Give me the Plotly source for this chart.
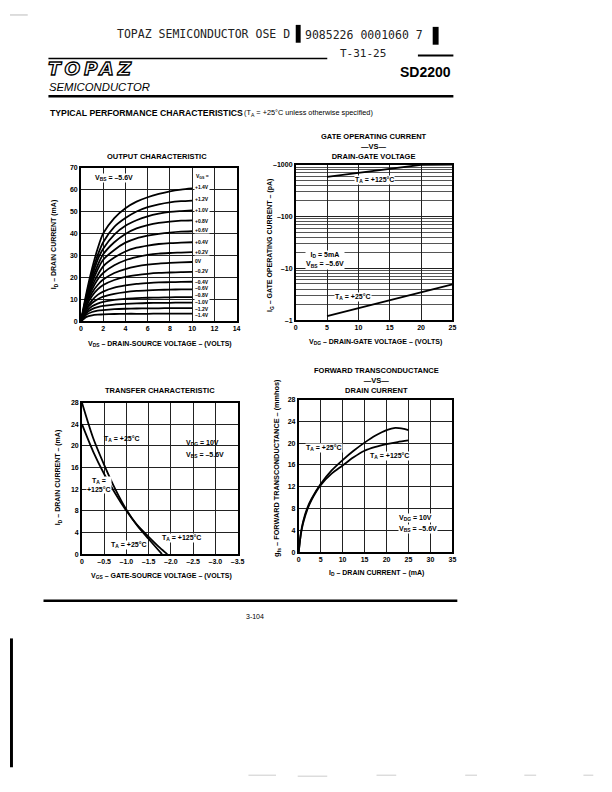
import plotly.graph_objects as go

W, H = 612, 792
OFF = 8  # page body margin, positions below are page pixels

# ---- output characteristic: I_D (mA) vs V_DS (V), one curve per V_GS
vds = [0, 0.5, 1, 1.5, 2, 3, 4, 5, 6, 7, 8, 9, 10]
vgs_names = ["+1.4V", "+1.2V", "+1.0V", "+0.8V", "+0.6V", "+0.4V", "+0.2V", "0V",
             "\u20130.2V", "\u20130.4V", "\u20130.6V", "\u20130.8V", "\u20131.0V",
             "\u20131.2V", "\u20131.4V"]
id_curves = [
    [0, 13, 24, 33, 40, 47, 51.5, 54.5, 56.5, 58, 59.2, 60, 60.5],
    [0, 12, 22, 30, 36, 43, 47, 50, 52, 53.3, 54.2, 54.7, 55],
    [0, 11, 20.5, 28, 33, 39.5, 43.5, 46, 47.8, 49, 49.8, 50.2, 50.5],
    [0, 10.5, 19, 25.5, 30.5, 36, 39.8, 42.3, 43.8, 44.8, 45.4, 45.8, 46],
    [0, 10, 17.5, 23.5, 28, 32.5, 35.8, 37.8, 39, 39.8, 40.4, 40.8, 41],
    [0, 9.5, 16, 21, 25, 29, 31.8, 33.5, 34.5, 35.2, 35.6, 35.8, 36],
    [0, 9, 14.5, 19, 22, 25.5, 27.8, 29.2, 30.2, 30.8, 31.1, 31.3, 31.5],
    [0, 8, 13, 16.5, 19, 22, 23.8, 25, 25.8, 26.3, 26.6, 26.8, 27],
    [0, 7, 11.5, 14.5, 16.5, 18.8, 20.2, 21, 21.6, 22, 22.2, 22.4, 22.5],
    [0, 6, 9.5, 12, 13.5, 15.3, 16.3, 17, 17.4, 17.7, 17.8, 17.9, 18],
    [0, 5.5, 8.3, 10, 11.2, 12.5, 13.3, 13.8, 14.1, 14.3, 14.4, 14.5, 14.5],
    [0, 4.5, 6.8, 8, 8.8, 9.7, 10.2, 10.5, 10.7, 10.8, 10.9, 11, 11],
    [0, 3.8, 5.5, 6.4, 7, 7.6, 7.9, 8.1, 8.3, 8.4, 8.4, 8.5, 8.5],
    [0, 3, 4.2, 4.8, 5.1, 5.5, 5.7, 5.8, 5.9, 5.9, 6, 6, 6],
    [0, 2, 2.7, 3, 3.1, 3.3, 3.4, 3.4, 3.4, 3.5, 3.5, 3.5, 3.5],
]
vgs_label_y = [61, 55.6, 50.8, 45.8, 41.7, 36, 31.7, 27.4, 22.7, 18.1, 15.3, 11.8, 8.8, 5.7, 3]

# ---- gate operating current (pA, magnitude) vs V_DG
vdg = [5, 10, 15, 20, 25]
ig_125 = [580, 700, 840, 990, 1000]
ig_25 = [1.2, 1.7, 2.45, 3.45, 4.9]

# ---- transfer characteristic
vgs_25 = [0, -0.25, -0.5, -0.75, -1.0, -1.25, -1.5, -1.8]
id_25 = [28, 21.5, 16.5, 12, 8.2, 5.2, 2.8, 0]
vgs_125 = [0, -0.25, -0.5, -0.75, -1.0, -1.25, -1.5, -1.75, -1.92]
id_125 = [24, 19, 14.8, 11.2, 8.0, 5.3, 3.2, 1.2, 0]
vgs_ticks = [0, -0.5, -1.0, -1.5, -2.0, -2.5, -3.0, -3.5]
vgs_ticktext = ["0", "\u20130.5", "\u20131.0", "\u20131.5", "\u20132.0", "\u20132.5", "\u20133.0", "\u20133.5"]

# ---- forward transconductance vs drain current
idr_25 = [0, 0.5, 1, 2, 3, 5, 7.5, 10, 12.5, 15, 17.5, 20, 22, 24, 25]
gfs_25 = [0, 3.5, 5.6, 8.2, 9.9, 12.5, 15, 16.9, 18.6, 20.1, 21.4, 22.4, 22.8, 22.6, 22.4]
idr_125 = [0, 0.5, 1, 2, 3, 5, 7.5, 10, 12.5, 15, 17.5, 20, 22.5, 25]
gfs_125 = [0, 3.3, 5.3, 7.9, 9.7, 12.3, 14.4, 15.9, 17.4, 18.6, 19.3, 19.8, 20.2, 20.5]

FONT = "Liberation Sans"


def px(x):
    return (x - OFF) / W


def py(y):
    return 1 - (y - OFF) / H


def dom_x(a, b):
    return [px(a), px(b)]


def dom_y(top, bot):
    return [py(bot), py(top)]


def axis(**kw):
    d = dict(showline=True, mirror=True, linecolor="black", linewidth=1.6,
             showgrid=True, gridcolor="#222", gridwidth=0.8, zeroline=False,
             ticks="", fixedrange=True,
             tickfont=dict(family=FONT, size=7, color="black", weight="bold"))
    d.update(kw)
    return d


def note(text, x, y, size=7, bold=True, xanchor="center", yanchor="middle",
         angle=0, family=FONT, color="black", **kw):
    d = dict(text=text, xref="paper", yref="paper", x=px(x), y=py(y),
             xanchor=xanchor, yanchor=yanchor, textangle=angle, showarrow=False,
             font=dict(family=family, size=size, color=color,
                       weight="bold" if bold else "normal"))
    d.update(kw)
    return d


def dnote(text, x, y, xr, yr, size=7, xanchor="center", bg=None):
    d = dict(text=text, x=x, y=y, xref=xr, yref=yr, showarrow=False,
             xanchor=xanchor, yanchor="middle",
             font=dict(family=FONT, size=size, color="black", weight="bold"))
    if bg:
        d.update(bgcolor=bg, borderpad=0)
    return d


fig = go.Figure()
line = dict(color="black", width=1.8, shape="spline", smoothing=0.8)

for ys in id_curves:
    fig.add_trace(go.Scatter(x=vds, y=ys, mode="lines", line=line, xaxis="x", yaxis="y"))

fig.add_trace(go.Scatter(x=vdg, y=ig_125, mode="lines", line=dict(color="black", width=1.9), xaxis="x2", yaxis="y2"))
fig.add_trace(go.Scatter(x=vdg, y=ig_25, mode="lines", line=dict(color="black", width=1.9), xaxis="x2", yaxis="y2"))

fig.add_trace(go.Scatter(x=vgs_25, y=id_25, mode="lines", line=line, xaxis="x3", yaxis="y3"))
fig.add_trace(go.Scatter(x=vgs_125, y=id_125, mode="lines", line=line, xaxis="x3", yaxis="y3"))

fig.add_trace(go.Scatter(x=idr_25, y=gfs_25, mode="lines", line=line, xaxis="x4", yaxis="y4"))
fig.add_trace(go.Scatter(x=idr_125, y=gfs_125, mode="lines", line=line, xaxis="x4", yaxis="y4"))

minor_vals = [m * 10 ** e for e in range(3) for m in range(2, 10)]

fig.update_layout(
    width=W, height=H, autosize=False, showlegend=False,
    margin=dict(l=0, r=0, t=0, b=0),
    paper_bgcolor="white", plot_bgcolor="white",
    xaxis=axis(domain=dom_x(80, 238), range=[0, 14], tickvals=list(range(0, 15, 2)), anchor="y"),
    yaxis=axis(domain=dom_y(165, 320), range=[0, 70], tickvals=list(range(0, 71, 10)), anchor="x"),
    xaxis2=axis(domain=dom_x(298, 457), range=[0, 25], tickvals=[0, 5, 10, 15, 20, 25], anchor="y2"),
    yaxis2=axis(domain=dom_y(162, 319), type="log", range=[0, 3], anchor="x2",
                tickvals=[1, 10, 100, 1000],
                ticktext=["\u20131", "\u201310", "\u2013100", "\u20131000"],
                minor=dict(tickvals=minor_vals, showgrid=True, gridcolor="#555", gridwidth=0.7)),
    xaxis3=axis(domain=dom_x(81, 239), range=[0, -3.5], tickvals=vgs_ticks, ticktext=vgs_ticktext, anchor="y3"),
    yaxis3=axis(domain=dom_y(402, 555), range=[0, 28], tickvals=list(range(0, 29, 4)), anchor="x3"),
    xaxis4=axis(domain=dom_x(301, 457), range=[0, 35], tickvals=list(range(0, 36, 5)), anchor="y4"),
    yaxis4=axis(domain=dom_y(399, 553), range=[0, 28], tickvals=list(range(0, 29, 4)), anchor="x4"),
)

ann = []
# header
mono = "DejaVu Sans Mono"
ann.append(note("TOPAZ SEMICONDUCTOR OSE D", 115, 30, size=11.5, bold=False, xanchor="left", family=mono, color="#222"))
ann.append(note("9085226 0001060 7", 305, 31, size=11.5, bold=False, xanchor="left", family=mono, color="#222"))
ann.append(note("T-31-25", 341, 50, size=11, bold=False, xanchor="left", family=mono, color="#222"))
ann.append(note('<i><span style="fill:white;stroke:black;stroke-width:1.3px;letter-spacing:3.8px">TOPAZ</span></i>',
                45, 64.5, size=18.5, xanchor="left", family="DejaVu Sans"))
ann.append(note("<i>SEMICONDUCTOR</i>", 46, 83.5, size=11.3, bold=False, xanchor="left"))
ann.append(note("SD2200", 458, 69, size=14, xanchor="right"))
ann.append(note("TYPICAL PERFORMANCE CHARACTERISTICS", 47, 110, size=8.7, xanchor="left"))
ann.append(note("(T<sub>A</sub> = +25\u00b0C unless otherwise specified)", 243, 110, size=7.3, bold=False, xanchor="left"))
ann.append(note("3-104", 257, 618, size=7, bold=False))

# chart titles
ann.append(note("OUTPUT CHARACTERISTIC", 157, 154, size=7.5))
ann.append(note("GATE OPERATING CURRENT<br>\u2014VS\u2014<br>DRAIN-GATE VOLTAGE", 377, 144, size=7.5))
ann.append(note("TRANSFER CHARACTERISTIC", 160, 390, size=7.5))
ann.append(note("FORWARD TRANSCONDUCTANCE<br>\u2014VS\u2014<br>DRAIN CURRENT", 380, 380, size=7.5))

# axis titles
ann.append(note("V<sub>DS</sub> \u2013 DRAIN-SOURCE VOLTAGE \u2013 (VOLTS)", 160, 343, size=7))
ann.append(note("I<sub>D</sub> \u2013 DRAIN CURRENT (mA)", 53, 242, size=7, angle=-90))
ann.append(note("V<sub>DG</sub> \u2013 DRAIN-GATE VOLTAGE \u2013 (VOLTS)", 379, 341, size=7))
ann.append(note("I<sub>G</sub> \u2013 GATE OPERATING CURRENT \u2013 (pA)", 272, 244, size=7, angle=-90))
ann.append(note("V<sub>GS</sub> \u2013 GATE-SOURCE VOLTAGE \u2013 (VOLTS)", 162, 577, size=7))
ann.append(note("I<sub>D</sub> \u2013 DRAIN CURRENT \u2013 (mA)", 57, 478, size=7, angle=-90))
ann.append(note("I<sub>D</sub> \u2013 DRAIN CURRENT \u2013 (mA)", 380, 574, size=7))
ann.append(note("g<sub>fs</sub> \u2013 FORWARD TRANSCONDUCTANCE \u2013 (mmhos)", 279, 468, size=7.3, angle=-90))

# output chart labels
ann.append(dnote("V<sub>BS</sub> = \u20135.6V", 1.2, 65.3, "x", "y", size=7, xanchor="left", bg="white"))
ann.append(dnote("V<sub>GS</sub> =", 10.25, 66, "x", "y", size=5, xanchor="left", bg="white"))
for name, yv in zip(vgs_names, vgs_label_y):
    ann.append(dnote(name, 10.2, yv, "x", "y", size=5, xanchor="left", bg="white"))

# gate chart labels (log axis -> log10 positions)
ann.append(dnote("T<sub>A</sub> = +125\u00b0C", 12.6, 2.71, "x2", "y2", size=7, bg="white"))
ann.append(dnote("I<sub>D</sub> = 5mA<br>V<sub>BS</sub> = \u20135.6V", 1.5, 1.17, "x2", "y2", size=7, xanchor="left", bg="white"))
ann.append(dnote("T<sub>A</sub> = +25\u00b0C", 9.2, 0.44, "x2", "y2", size=7, bg="white"))

# transfer chart labels
ann.append(dnote("T<sub>A</sub> = +25\u00b0C", -0.45, 21.3, "x3", "y3", size=7, xanchor="left"))
ann.append(dnote("V<sub>DG</sub> = 10V", -2.3, 20.5, "x3", "y3", size=7, xanchor="left"))
ann.append(dnote("V<sub>BS</sub> = \u20135.6V", -2.3, 18.4, "x3", "y3", size=7, xanchor="left"))
ann.append(dnote("T<sub>A</sub> =<br>+125\u00b0C", -0.1, 12.7, "x3", "y3", size=7, xanchor="left", bg="white"))
ann.append(dnote("T<sub>A</sub> = +125\u00b0C", -1.78, 2.9, "x3", "y3", size=7, xanchor="left", bg="white"))
ann.append(dnote("T<sub>A</sub> = +25\u00b0C", -0.64, 1.6, "x3", "y3", size=7, xanchor="left", bg="white"))

# forward transconductance labels
ann.append(dnote("T<sub>A</sub> = +25\u00b0C", 1.5, 19.2, "x4", "y4", size=7, xanchor="left", bg="white"))
ann.append(dnote("T<sub>A</sub> = +125\u00b0C", 16, 17.6, "x4", "y4", size=7, xanchor="left", bg="white"))
ann.append(dnote("V<sub>DG</sub> = 10V", 22.5, 6.3, "x4", "y4", size=7, xanchor="left", bg="white"))
ann.append(dnote("V<sub>BS</sub> = \u20135.6V", 22.5, 4.2, "x4", "y4", size=7, xanchor="left", bg="white"))

fig.update_layout(annotations=ann)


def hline(x0, x1, y, w, color="black"):
    return dict(type="line", xref="paper", yref="paper", x0=px(x0), x1=px(x1),
                y0=py(y), y1=py(y), line=dict(color=color, width=w))


def rect(x0, y0, x1, y1, color="black"):
    return dict(type="rect", xref="paper", yref="paper", x0=px(x0), x1=px(x1),
                y0=py(y1), y1=py(y0), line=dict(width=0), fillcolor=color)


shapes = [
    rect(298, 21, 303, 39),
    rect(437, 23, 443, 41),
    hline(47, 330, 55, 1.5),
    hline(422, 458, 52, 2),
    hline(47, 458, 93, 2.6),
    hline(42, 462, 602, 2.6),
    rect(8, 640, 11, 770),
    hline(8, 26, 11, 1, "#bbb"),
    hline(250, 278, 778, 1, "#ccc"),
    hline(300, 330, 779, 1, "#ccc"),
    hline(380, 400, 778, 1, "#ccc"),
    hline(470, 482, 778, 1, "#ccc"),
    hline(530, 542, 778, 1, "#ccc"),
    hline(590, 600, 778, 1, "#ccc"),
]
fig.update_layout(shapes=shapes)

fig.write_html("out.html")
